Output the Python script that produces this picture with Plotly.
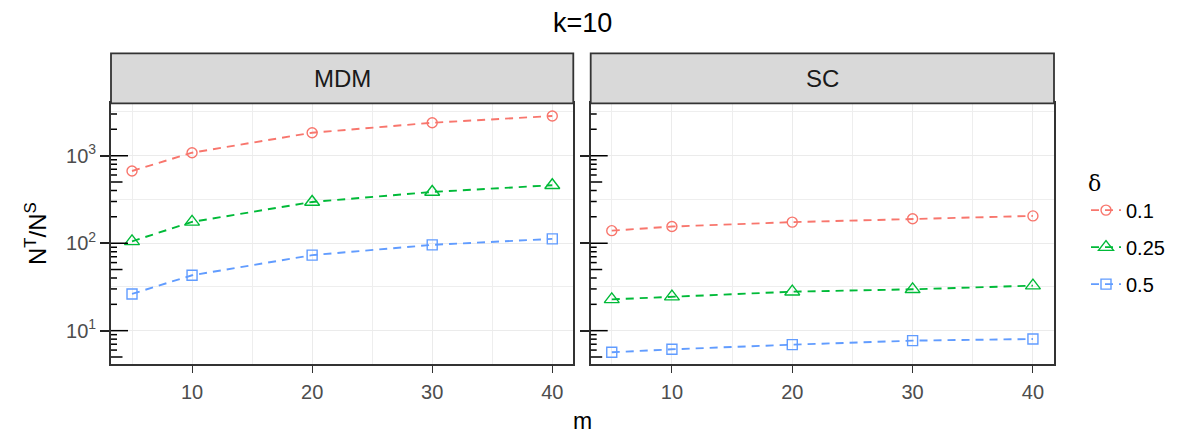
import plotly.graph_objects as go
import numpy as np

m_vals = [5, 10, 20, 30, 40]
deltas = ["0.1", "0.25", "0.5"]
panels = ["MDM", "SC"]

mdm_01 = [668, 1082, 1832, 2380, 2844]
mdm_025 = [105, 175, 296, 385, 460]
mdm_05 = [26.3, 43, 73, 95.7, 112]
sc_01 = [139, 155, 174, 190, 205]
sc_025 = [22.8, 24.5, 27.9, 29.7, 32.7]
sc_05 = [5.66, 6.12, 6.92, 7.69, 8.03]

series = {
    "MDM": [mdm_01, mdm_025, mdm_05],
    "SC": [sc_01, sc_025, sc_05],
}

colors = ["#F8766D", "#00BA38", "#619CFF"]
symbols = ["circle-open", "triangle-up-open", "square-open"]
msizes = [10, 13, 10]

W, H = 1200, 446
def px_x(v):
    return v / W
def px_y(v):
    return (H - v) / H

FONT = "Liberation Sans, Arial, Helvetica, sans-serif"
dom1 = [px_x(111), px_x(573.3)]
dom2 = [px_x(590.7), px_x(1054)]
ydom = [px_y(364), px_y(103.3)]
yrange = [0.619, 3.599]
xrange = [3.25, 41.75]

fig = go.Figure()
for pi, panel in enumerate(panels):
    xa = "x" if pi == 0 else "x2"
    ya = "y" if pi == 0 else "y2"
    for di, d in enumerate(deltas):
        fig.add_trace(go.Scatter(
            x=m_vals, y=series[panel][di], xaxis=xa, yaxis=ya,
            mode="lines+markers", name=d, legendgroup=d,
            showlegend=(pi == 0),
            line=dict(color=colors[di], width=1.9, dash="8px,6px"),
            marker=dict(symbol=symbols[di], size=msizes[di], color=colors[di],
                        line=dict(width=1.4, color=colors[di])),
        ))

axis_common_x = dict(
    range=xrange, tickmode="array", tickvals=[10, 20, 30, 40], ticks="outside", ticklen=7,
    tickwidth=1.2, tickcolor="#333333", showline=True, mirror=True,
    linecolor="#333333", linewidth=1.8, showgrid=True, gridcolor="#EBEBEB",
    gridwidth=1.4, zeroline=False,
    tickfont=dict(family=FONT, size=20, color="#4D4D4D"),
    minor=dict(tickmode="array", tickvals=[5, 15, 25, 35], showgrid=True, gridcolor="#EEEEEE",
               gridwidth=1.0, ticks=""),
    ticklabelstandoff=2,
)
axis_common_y = dict(
    type="log", range=yrange, tickmode="array", tickvals=[10, 100, 1000], ticks="outside",
    ticklen=9, tickwidth=1.5, tickcolor="#222222", showline=True, mirror=True,
    linecolor="#333333", linewidth=1.8, showgrid=True, gridcolor="#EBEBEB",
    gridwidth=1.4, zeroline=False,
    tickfont=dict(family=FONT, size=20, color="#4D4D4D"),
    minor=dict(tickmode="array", tickvals=[10 ** 1.5, 10 ** 2.5, 10 ** 3.5], showgrid=True,
               gridcolor="#EEEEEE", gridwidth=1.0, ticks=""),
)

fig.update_layout(
    xaxis=dict(domain=dom1, anchor="y", **axis_common_x),
    xaxis2=dict(domain=dom2, anchor="y2", **axis_common_x),
    yaxis=dict(domain=ydom, anchor="x", ticktext=["10<sup>1</sup>", "10<sup>2</sup>", "10<sup>3</sup>"],
               **axis_common_y),
    yaxis2=dict(domain=ydom, anchor="x2", showticklabels=False, **axis_common_y),
)

shapes = []
annotations = []
# strips
for pi, panel in enumerate(panels):
    xr = "x domain" if pi == 0 else "x2 domain"
    shapes.append(dict(type="rect", xref=xr, yref="paper", x0=0, x1=1,
                       y0=px_y(103.3), y1=px_y(53.3), fillcolor="#D9D9D9",
                       line=dict(color="#333333", width=1.8), layer="above"))
    annotations.append(dict(text=panel, xref=xr, yref="paper", x=0.5,
                            y=px_y(78.5), showarrow=False, xanchor="center", yanchor="middle",
                            font=dict(family=FONT, size=24, color="#1A1A1A")))
    # log ticks
    yr = "y" if pi == 0 else "y2"
    for dec in range(0, 4):
        for k in range(1, 10):
            v = k * 10 ** dec
            lv = np.log10(v)
            if lv < yrange[0] or lv > yrange[1]:
                continue
            L = 17 if k == 1 else (11.5 if k == 5 else 6)
            shapes.append(dict(type="line", xref=xr, yref=yr, xsizemode="pixel",
                               xanchor=0, x0=0, x1=L, y0=v, y1=v,
                               line=dict(color="black", width=1.5), layer="above"))

annotations.append(dict(text="k=10", xref="paper", yref="paper", x=px_x(582.5),
                        y=px_y(23), showarrow=False, xanchor="center", yanchor="middle",
                        font=dict(family=FONT, size=27, color="black")))
annotations.append(dict(text="m", xref="paper", yref="paper", x=px_x(582.5),
                        y=px_y(421), showarrow=False, xanchor="center", yanchor="middle",
                        font=dict(family=FONT, size=23, color="black")))
annotations.append(dict(text="N<sup>T</sup>/N<sup>S</sup>", xref="paper", yref="paper",
                        x=px_x(36), y=px_y(234), showarrow=False, textangle=-90,
                        xanchor="center", yanchor="middle",
                        font=dict(family=FONT, size=24, color="black")))

fig.update_layout(
    width=W, height=H, margin=dict(l=0, r=0, t=0, b=0),
    paper_bgcolor="white", plot_bgcolor="white",
    shapes=shapes, annotations=annotations,
    legend=dict(x=px_x(1086), y=px_y(162), xanchor="left", yanchor="top",
                title=dict(text="δ", font=dict(family="DejaVu Serif, serif", size=22, color="black")),
                font=dict(family=FONT, size=20, color="black"),
                tracegroupgap=8, itemwidth=30, bgcolor="rgba(0,0,0,0)"),
    font=dict(family=FONT, size=20),
)

fig.write_html("out.html")
